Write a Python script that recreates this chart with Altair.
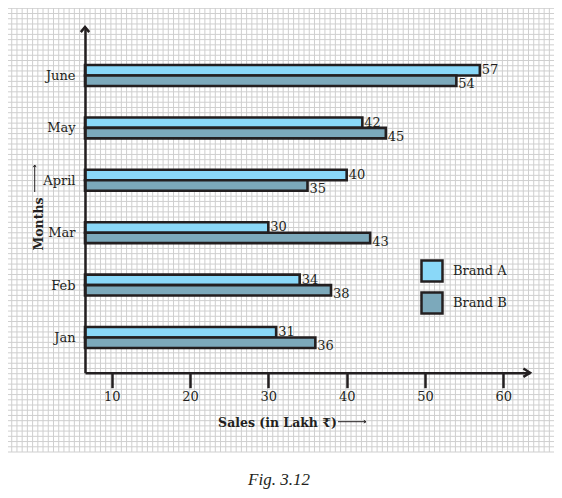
import altair as alt
import pandas as pd

# ---- data ----
months = ["Jan", "Feb", "Mar", "April", "May", "June"]
brand_a = [31, 34, 30, 40, 42, 57]
brand_b = [36, 38, 43, 35, 45, 54]
brands = ["Brand A", "Brand B"]
x_ticks = [10, 20, 30, 40, 50, 60]
colors = ["#8ad8f8", "#7ca9bb"]
x_title = "Sales (in Lakh ₹)"
y_title = "Months"
caption = "Fig. 3.12"

rows = []
for i, m in enumerate(months):
    rows.append({"month": m, "idx": i, "brand": brands[0], "value": brand_a[i]})
    rows.append({"month": m, "idx": i, "brand": brands[1], "value": brand_b[i]})
df = pd.DataFrame(rows)

INK = "#231f20"
SERIF = "DejaVu Serif"
GRID = "#cfcfcf"
W, H = 445, 345.7
X_MIN, X_MAX = 6.6, 63.4
Y_MIN, Y_MAX = -0.672, 5.926

xs = alt.Scale(domain=[X_MIN, X_MAX], nice=False, zero=False)
ys = alt.Scale(domain=[Y_MIN, Y_MAX], nice=False, zero=False)
label_expr = "[" + ",".join(f"'{m}'" for m in months) + "][datum.value]"

# ---- graph-paper background ----
vgrid = alt.Chart(alt.sequence(0, 106, as_="i")).transform_calculate(
    px="-78.5 + datum.i * 5.22"
).mark_rule(color=GRID, strokeWidth=1).encode(
    x=alt.X("px:Q", scale=None, axis=None),
    y=alt.value(-23),
    y2=alt.value(425),
)
hgrid = alt.Chart(alt.sequence(0, 87, as_="j")).transform_calculate(
    py="425 - datum.j * 5.22"
).mark_rule(color=GRID, strokeWidth=1).encode(
    y=alt.Y("py:Q", scale=None, axis=None),
    x=alt.value(-78.5),
    x2=alt.value(469.6),
)

base = alt.Chart(df).transform_calculate(
    isA=f"datum.brand == '{brands[0]}'",
    y0="datum.isA ? datum.idx + 0.2 : datum.idx",
    y1="datum.isA ? datum.idx : datum.idx - 0.2",
    yc="datum.isA ? datum.idx + 0.1 : datum.idx - 0.17",
    xb=str(X_MIN),
)

bars = base.mark_bar(stroke=INK, strokeWidth=2.6, opacity=1).encode(
    x=alt.X(
        "value:Q",
        scale=xs,
        axis=alt.Axis(
            values=x_ticks, format="d", title=x_title, grid=False, zindex=1,
            titleFont=SERIF, titleFontSize=12.5, titleFontWeight="bold", titleColor=INK,
            titleX=192, titleY=53.5, titleAlign="center", titleBaseline="alphabetic",
            domainColor=INK, domainWidth=2.5, tickColor=INK, tickWidth=2.5, tickSize=15,
            labelFont=SERIF, labelFontSize=13, labelColor=INK, labelPadding=3,
            labelFlush=False,
        ),
    ),
    x2="xb:Q",
    y=alt.Y(
        "y0:Q",
        scale=ys,
        axis=alt.Axis(
            values=list(range(len(months))), labelExpr=label_expr, title=y_title,
            grid=False, ticks=False, labelPadding=10, zindex=1,
            labelFont=SERIF, labelFontSize=13, labelColor=INK,
            domainColor=INK, domainWidth=2.5,
            titleFont=SERIF, titleFontSize=12.5, titleFontWeight="bold", titleColor=INK,
            titleX=-42.5, titleY=196.5, titleAngle=-90, titleAlign="center",
            titleBaseline="alphabetic",
        ),
    ),
    y2="y1:Q",
    color=alt.Color(
        "brand:N",
        scale=alt.Scale(domain=brands, range=colors),
        legend=alt.Legend(
            title=None, orient="none", legendX=335, legendY=232,
            symbolType="square", symbolSize=441, symbolStrokeWidth=2.5,
            symbolStrokeColor=INK, symbolOpacity=1,
            labelFont=SERIF, labelFontSize=13, labelColor=INK,
            labelOffset=9, rowPadding=0,
        ),
    ),
)

labels = base.mark_text(
    align="left", baseline="middle", dx=2, font=SERIF, fontSize=13, color=INK
).encode(
    x=alt.X("value:Q", scale=xs, axis=None),
    y=alt.Y("yc:Q", scale=ys, axis=None),
    text=alt.Text("value:Q"),
)

one = pd.DataFrame({"k": [0]})
arrow_y = alt.Chart(one).mark_point(
    shape="M -0.7 0.85 L 0 0 L 0.7 0.85", size=144, filled=False,
    stroke=INK, strokeWidth=2.5, opacity=1,
).encode(x=alt.value(0), y=alt.value(0))
arrow_x = alt.Chart(one).mark_point(
    shape="M -1.1 -0.7 L 0 0 L -1.1 0.7", size=144, filled=False,
    stroke=INK, strokeWidth=2.5, opacity=1,
).encode(x=alt.value(W), y=alt.value(H))

# small "direction" arrows that follow the axis titles
t_arrow_x = alt.Chart(one).mark_rule(stroke=INK, strokeWidth=1).encode(
    x=alt.value(253), x2=alt.value(281), y=alt.value(394.7)
)
t_head_x = alt.Chart(one).mark_point(
    shape="M -1.1 -0.7 L 0 0 L -1.1 0.7", size=16, filled=False,
    stroke=INK, strokeWidth=1, opacity=1,
).encode(x=alt.value(281), y=alt.value(394.7))
t_arrow_y = alt.Chart(one).mark_rule(stroke=INK, strokeWidth=1).encode(
    x=alt.value(-50.3), y=alt.value(138), y2=alt.value(165)
)
t_head_y = alt.Chart(one).mark_point(
    shape="M -0.7 1.1 L 0 0 L 0.7 1.1", size=16, filled=False,
    stroke=INK, strokeWidth=1, opacity=1,
).encode(x=alt.value(-50.3), y=alt.value(138))

cap = alt.Chart(pd.DataFrame({"t": [caption]})).mark_text(
    font="Liberation Serif", fontStyle="italic", fontSize=17,
    align="center", baseline="alphabetic", color=INK,
).encode(x=alt.value(194), y=alt.value(458), text="t:N")

chart = alt.layer(
    vgrid, hgrid, bars, labels, arrow_y, arrow_x,
    t_arrow_x, t_head_x, t_arrow_y, t_head_y, cap,
).resolve_scale(
    x="independent", y="independent"
).properties(
    width=W, height=H,
    autosize=alt.AutoSizeParams(type="none"),
    padding={"left": 77, "top": 19, "right": 24, "bottom": 117},
    background="white",
).configure_view(stroke=None)

chart.save("out.html", embed_options={"renderer": "svg", "actions": False})
